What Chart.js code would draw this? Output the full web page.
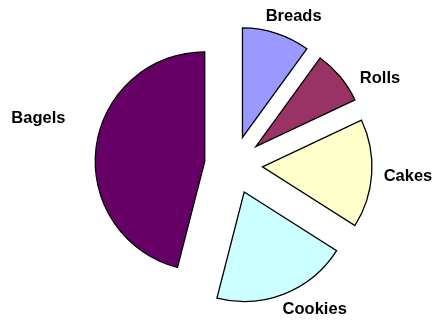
<!DOCTYPE html>
<html><head><meta charset="utf-8">
<script src="https://cdn.jsdelivr.net/npm/chart.js@4/dist/chart.umd.min.js"></script>
<style>html,body{margin:0;padding:0;background:#fff;} canvas{display:block;}</style>
</head><body>
<canvas id="c" width="437" height="320"></canvas>
<script>
const categories = ['Breads', 'Rolls', 'Cakes', 'Cookies', 'Bagels'];
const sales = [10, 8, 16, 20, 46];
const sliceColors = ['#9999FF', '#993366', '#FFFFCC', '#CCFFFF', '#660066'];

const EXPLODE = 29;
const LABEL_GAP = 12;
const labelNudge = { Breads: [5, 2], Rolls: [15, 14], Cakes: [0, 2], Cookies: [14, -3], Bagels: [-19, -27] };

const explodePlugin = {
  id: 'explode',
  beforeDatasetDraw(chart, args) {
    const ctx = chart.ctx;
    args.meta.data.forEach(arc => {
      const mid = (arc.startAngle + arc.endAngle) / 2;
      ctx.save();
      ctx.translate(Math.cos(mid) * EXPLODE, Math.sin(mid) * EXPLODE);
      arc.draw(ctx, chart.chartArea);
      ctx.restore();
    });
    return false;
  },
  afterDatasetsDraw(chart) {
    const ctx = chart.ctx;
    const meta = chart.getDatasetMeta(0);
    ctx.save();
    ctx.font = 'bold 16.5px "Liberation Sans", Arial, sans-serif';
    ctx.fillStyle = '#000';
    ctx.textAlign = 'center';
    ctx.textBaseline = 'middle';
    meta.data.forEach((arc, i) => {
      const mid = (arc.startAngle + arc.endAngle) / 2;
      const dx = Math.cos(mid), dy = Math.sin(mid);
      const D = arc.outerRadius + EXPLODE + LABEL_GAP;
      const label = chart.data.labels[i];
      const hw = ctx.measureText(label).width / 2, hh = 8;
      const n = labelNudge[label] || [0, 0];
      const x = arc.x + dx * D + dx * hw + n[0];
      const y = arc.y + dy * D + dy * hh + n[1];
      ctx.fillText(label, x, y);
    });
    ctx.restore();
  }
};

new Chart(document.getElementById('c'), {
  type: 'pie',
  data: {
    labels: categories,
    datasets: [{
      data: sales,
      backgroundColor: sliceColors,
      borderColor: '#000000',
      borderWidth: 1.3,
      borderJoinStyle: 'miter',
      offset: 0,
      hoverOffset: 0
    }]
  },
  options: {
    responsive: false,
    animation: false,
    events: [],
    radius: 109.5,
    layout: { padding: { left: 30, right: 0, top: 10, bottom: 0 } },
    plugins: { legend: { display: false }, tooltip: { enabled: false } }
  },
  plugins: [explodePlugin]
});
</script>
</body></html>
